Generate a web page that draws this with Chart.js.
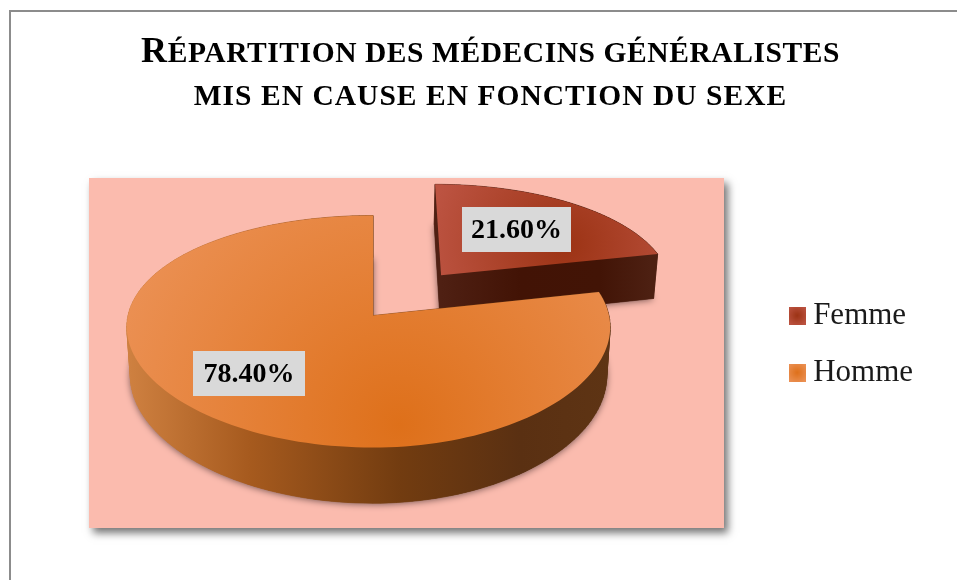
<!DOCTYPE html>
<html lang="fr">
<head>
<meta charset="utf-8">
<title>Répartition des médecins généralistes</title>
<script src="https://cdn.jsdelivr.net/npm/chart.js@4"></script>
<style>
  html, body { margin: 0; background: #fff; overflow: hidden; }
  #page { position: relative; width: 957px; height: 580px; overflow: hidden; }
  #frame { position: absolute; left: 9px; top: 10px; width: 1000px; height: 620px; border: 2px solid #8c8c8c; }
  #chart { position: absolute; left: 0; top: 0; }
  h1 {
    position: absolute; left: 0; width: 981px; margin: 0; text-align: center; white-space: nowrap;
    font: bold 29.5px "Liberation Serif", serif; color: #000; line-height: 40px; text-transform: uppercase;
  }
  h1 .cap { font-size: 36px; }
  #t1 { top: 30px; letter-spacing: 0.57px; }
  #t2 { top: 75px; letter-spacing: 1.03px; }
</style>
</head>
<body>
<div id="page">
  <div id="frame"></div>
  <canvas id="chart" width="957" height="580"></canvas>
  <h1 id="t1"><span class="cap">R</span>épartition des médecins généralistes</h1>
  <h1 id="t2">mis en cause en fonction du sexe</h1>
</div>
<script>
const categories = ["Femme", "Homme"];
const shares = [21.6, 78.4];

const PLOT = { left: 89, top: 178, right: 724, bottom: 528 };
// apparent 3D view of the pie: apex, radii left/right, height, perspective, wall height
const VIEW = { cx: 373, cy: 315.5, aL: 245, aR: 236, b: 113.8, k: -0.138, kx: -0.1, depth: 48, shrink: 0.0143 };
const LABEL_BOX = [[462, 207, 109, 45], [193, 351, 112, 45]];

const TOP_STOPS = [
  { at: [565, 245], r: 135, inner: "#9C3314", outer: "#BC5341" },
  { at: [400, 425], r: 300, inner: "#DE701A", outer: "#EB9053" },
];
const WALL_STOPS = [
  [[441, "#4F2013"], [520, "#421305"], [600, "#421406"], [650, "#4D2012"]],
  [[130, "#CE8040"], [250, "#A65A1E"], [400, "#723C10"], [520, "#5A3012"], [610, "#5E3414"]],
];

const project = (u, v, ground) => {
  const w = 1 + VIEW.k * v;
  let x = VIEW.cx + (u < 0 ? VIEW.aL : VIEW.aR) * u / (1 + VIEW.kx * v);
  let y = VIEW.cy + VIEW.b * v / w;
  if (ground) {
    x = VIEW.cx + (x - VIEW.cx) * (1 - VIEW.shrink);
    y += VIEW.depth / w;
  }
  return [x, y];
};

// outline of one slice in pie units, read from the Chart.js arc element
const sliceOutline = (arc) => {
  const mid = (arc.startAngle + arc.endAngle) / 2;
  const e = (arc.options.offset || 0) / arc.outerRadius;
  const ou = Math.cos(mid) * e, ov = Math.sin(mid) * e;
  const pts = [[ou, ov]];
  const n = 160;
  for (let i = 0; i <= n; i++) {
    const t = arc.startAngle + (arc.endAngle - arc.startAngle) * i / n;
    pts.push([ou + Math.cos(t), ov + Math.sin(t)]);
  }
  return pts;
};

const tracePath = (ctx, pts, ground) => {
  ctx.beginPath();
  pts.forEach((p, i) => {
    const [x, y] = project(p[0], p[1], ground);
    if (i) ctx.lineTo(x, y); else ctx.moveTo(x, y);
  });
  ctx.closePath();
};

const pie3d = {
  id: "pie3d",
  beforeDatasetsDraw(chart) {
    const ctx = chart.ctx;
    const arcs = chart.getDatasetMeta(0).data;

    ctx.save();
    ctx.shadowColor = "rgba(0,0,0,0.55)";
    ctx.shadowBlur = 8;
    ctx.shadowOffsetX = 4;
    ctx.shadowOffsetY = 5;
    ctx.fillStyle = "#FBBBAE";
    ctx.fillRect(PLOT.left, PLOT.top, PLOT.right - PLOT.left, PLOT.bottom - PLOT.top);
    ctx.restore();

    arcs.forEach((arc, i) => {
      const pts = sliceOutline(arc);
      const stops = WALL_STOPS[i];
      const x0 = stops[0][0], x1 = stops[stops.length - 1][0];
      const wall = ctx.createLinearGradient(x0, 0, x1, 0);
      stops.forEach(([x, c]) => wall.addColorStop((x - x0) / (x1 - x0), c));

      ctx.save();
      ctx.shadowColor = "rgba(60,40,40,0.7)";
      ctx.shadowBlur = 7;
      ctx.shadowOffsetX = 0;
      ctx.shadowOffsetY = 1;
      ctx.fillStyle = wall;
      tracePath(ctx, pts, true);
      ctx.fill();
      ctx.restore();

      ctx.fillStyle = wall;
      ctx.strokeStyle = wall;
      ctx.lineWidth = 0.6;
      pts.forEach((p, j) => {
        const q = pts[(j + 1) % pts.length];
        const a = project(p[0], p[1]), b = project(q[0], q[1]);
        const c = project(q[0], q[1], true), d = project(p[0], p[1], true);
        ctx.beginPath();
        ctx.moveTo(a[0], a[1]); ctx.lineTo(b[0], b[1]); ctx.lineTo(c[0], c[1]); ctx.lineTo(d[0], d[1]);
        ctx.closePath();
        ctx.fill();
        ctx.stroke();
      });

      const s = TOP_STOPS[i];
      const top = ctx.createRadialGradient(s.at[0], s.at[1], 0, s.at[0], s.at[1], s.r);
      top.addColorStop(0, s.inner);
      top.addColorStop(1, s.outer);
      ctx.fillStyle = top;
      tracePath(ctx, pts, false);
      ctx.fill();
    });

    ctx.font = 'bold 28px "Liberation Serif", serif';
    ctx.textAlign = "center";
    ctx.textBaseline = "middle";
    shares.forEach((v, i) => {
      const [x, y, w, h] = LABEL_BOX[i];
      ctx.fillStyle = "#D9D9D9";
      ctx.fillRect(x, y, w, h);
      ctx.fillStyle = "#000";
      ctx.fillText(v.toFixed(2) + "%", x + w / 2, y + h / 2 + 1);
    });
    return false;
  },
};

const swatch = (inner, outer) => {
  const c = document.createElement("canvas");
  c.width = 17; c.height = 18;
  const g = c.getContext("2d");
  const grad = g.createRadialGradient(8.5, 9, 0, 8.5, 9, 11);
  grad.addColorStop(0, inner);
  grad.addColorStop(1, outer);
  g.fillStyle = grad;
  g.fillRect(0, 0, 17, 18);
  return c;
};

new Chart(document.getElementById("chart"), {
  type: "pie",
  data: {
    labels: categories,
    datasets: [{
      data: shares,
      backgroundColor: TOP_STOPS.map((s) => s.outer),
      borderWidth: 0,
      offset: [68.5, 0],
    }],
  },
  plugins: [pie3d],
  options: {
    responsive: false,
    animation: false,
    events: [],
    layout: { padding: { left: 89, top: 166, bottom: 58, right: 34 } },
    plugins: {
      tooltip: { enabled: false },
      legend: {
        position: "right",
        labels: {
          usePointStyle: true,
          pointStyleWidth: 1,
          boxHeight: 17,
          padding: 26,
          color: "#1a1a1a",
          font: { family: '"Liberation Serif", serif', size: 31 },
          generateLabels: (chart) => Chart.overrides.pie.plugins.legend.labels.generateLabels(chart).map((it, i) => ({
            ...it, pointStyle: swatch(TOP_STOPS[i].inner, TOP_STOPS[i].outer),
          })),
        },
      },
    },
  },
});
</script>
</body>
</html>
